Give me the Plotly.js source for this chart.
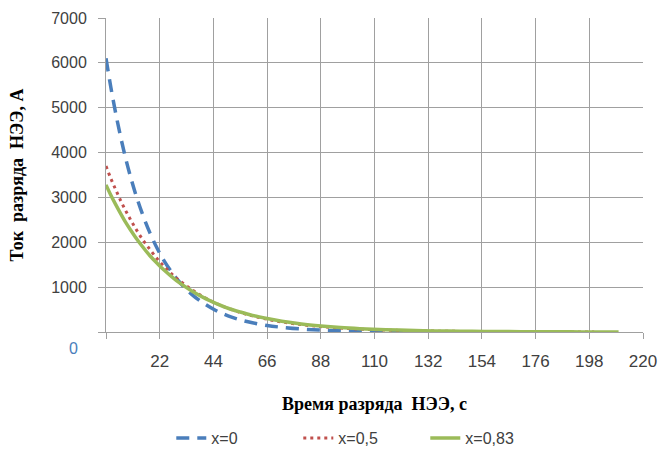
<!DOCTYPE html>
<html>
<head>
<meta charset="utf-8">
<script src="https://cdn.plot.ly/plotly-3.0.1.min.js"></script>
<style>html,body{margin:0;padding:0;background:#fff;}#chart{width:659px;height:457px;}</style>
</head>
<body>
<div id="chart"></div>
<script>
// Discharge time, s
const tBlue  = [0,2,4,6,8,10,12,15,18,21,24,27,30,35,40,45,50,55,60,66,72,80,88,96,104,112,120,130,140,148];
const tRed   = [0,2,4,6,8,10,12,15,18,21,24,27,30,35,40,45,50,55,60,66,72,80,88,96,104,112,120,130,140,150,160,170,180,190,200];
const tGreen = [0,2,4,6,8,10,12,15,18,21,24,27,30,35,40,45,50,55,60,66,72,80,88,96,104,112,120,130,140,150,160,170,180,190,200,210];
// Discharge current, A
const iBlue  = [6100,5450,4870,4350,3880,3470,3100,2620,2210,1860,1570,1330,1120,845,640,480,360,270,205,145,105,66,42,27,17,11,7,4,2,1];
const iRed   = [3700,3420,3170,2930,2710,2510,2320,2060,1840,1630,1450,1290,1150,950,780,640,530,435,360,285,225,165,120,88,65,47,35,24,16,11,7,5,3,2,1];
const iGreen = [3280,3050,2840,2640,2450,2280,2120,1900,1700,1530,1370,1230,1100,920,765,640,530,445,370,300,240,180,135,100,75,56,42,29,20,14,10,7,5,3,2,1];
const seriesNames = ["x=0","x=0,5","x=0,83"];
const xTicks = [0,22,44,66,88,110,132,154,176,198,220];
const xTickText = ["","22","44","66","88","110","132","154","176","198","220"];
const yTicks = [0,1000,2000,3000,4000,5000,6000,7000];
const yTickText = ["","1000","2000","3000","4000","5000","6000","7000"];
const xTitle = "Время разряда  НЭЭ, с";
const yTitle = "Ток  разряда  НЭЭ, А";
const zeroLabel = "0";

const traces = [
  {x:tBlue, y:iBlue, name:seriesNames[0], mode:"lines", line:{color:"#4a7ebb", width:3.5, dash:"13px,8px", shape:"spline"}},
  {x:tRed, y:iRed, name:seriesNames[1], mode:"lines", line:{color:"#c0504d", width:3, dash:"3px,4px", shape:"spline"}},
  {x:tGreen, y:iGreen, name:seriesNames[2], mode:"lines", line:{color:"#9bbb59", width:3.5, shape:"spline"}}
];

const gridC = "#a0a0a0";
const layout = {
  width:659, height:457,
  margin:{l:106, r:16, t:18, b:125, autoexpand:false},
  paper_bgcolor:"#fff", plot_bgcolor:"#fff",
  showlegend:true,
  legend:{orientation:"h", xref:"container", yref:"container", x:0.549, xanchor:"center", y:(457-438)/457, yanchor:"middle",
          font:{family:"Liberation Sans, Arial, sans-serif", size:16, color:"#404040"}, entrywidth:82},
  xaxis:{range:[0,220], tickvals:xTicks, ticktext:xTickText, showgrid:true, gridcolor:gridC, gridwidth:1,
         showline:true, linecolor:gridC, linewidth:1, ticks:"outside", ticklen:6, tickcolor:gridC,
         zeroline:false, tickfont:{family:"Liberation Sans, Arial, sans-serif", size:17, color:"#404040"},
         ticklabelstandoff:8,
         title:{text:xTitle, font:{family:"Liberation Serif, Times New Roman, serif", size:18, color:"#000", weight:"bold"}, standoff:26}},
  yaxis:{range:[0,7000], tickvals:yTicks, ticktext:yTickText, showgrid:true, gridcolor:gridC, gridwidth:1,
         showline:true, linecolor:gridC, linewidth:1, ticks:"outside", ticklen:7, tickcolor:gridC,
         zeroline:false, tickfont:{family:"Liberation Sans, Arial, sans-serif", size:16, color:"#404040"},
         ticklabelstandoff:8,
         title:{text:yTitle, font:{family:"Liberation Serif, Times New Roman, serif", size:18, color:"#000", weight:"bold"}, standoff:22}},
  annotations:[{text:zeroLabel, xref:"paper", yref:"paper", x:(73-106)/537, y:(332-348)/314, xanchor:"center", yanchor:"middle",
                showarrow:false, font:{family:"Liberation Sans, Arial, sans-serif", size:16, color:"#4a7ebb"}}]
};
Plotly.newPlot("chart", traces, layout, {displayModeBar:false, staticPlot:true});
</script>
</body>
</html>
